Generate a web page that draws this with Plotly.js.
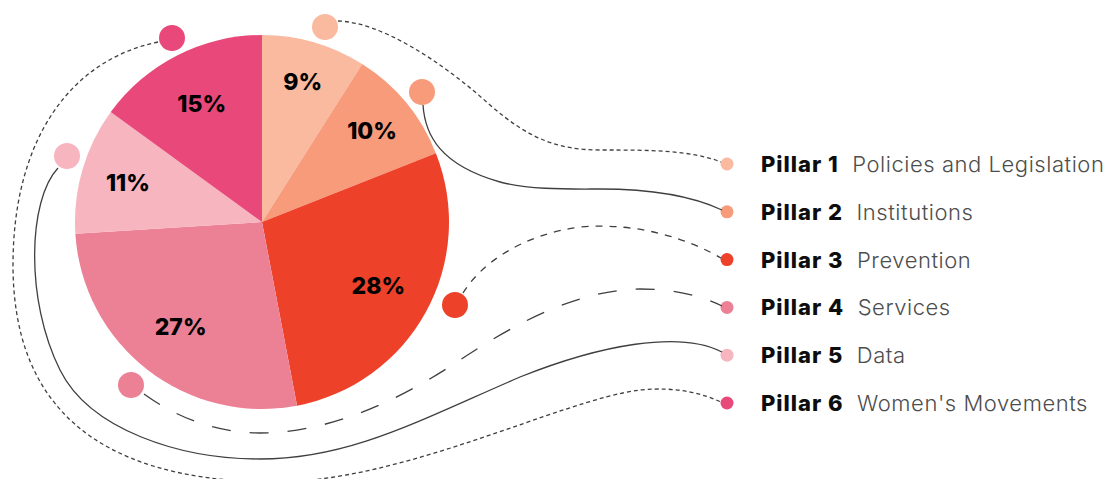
<!DOCTYPE html>
<html><head><meta charset="utf-8">
<script src="https://cdn.plot.ly/plotly-3.0.1.min.js"></script>
<style>html,body{margin:0;padding:0;background:#fff}#chart{width:1109px;height:479px}
.annotation-text{letter-spacing:0.55px}</style>
</head><body><div id="chart"></div>
<script>
// ---- data ----
const pillars = ["Pillar 1", "Pillar 2", "Pillar 3", "Pillar 4", "Pillar 5", "Pillar 6"];
const pillarNames = ["Policies and Legislation", "Institutions", "Prevention", "Services", "Data", "Women's Movements"];
const shares = [9, 10, 28, 27, 11, 15];

// ---- styles / layout geometry (pixels) ----
const colors = ["#F9BA9F", "#F79B7B", "#EE412A", "#EC8195", "#F6B5BF", "#E8497A"];
const W = 1109, H = 479;
const cx = 262, cy = 222, R = 187;
const legendX = 727, legendY0 = 164, legendStep = 47.8, legendTextX = 759;
// decorative bubbles next to the pie, and connector curves to the legend dots
const bubbles = [[325, 27], [422, 92], [455, 305], [131, 385], [67, 156], [172, 38]];
const bubbleR = 13;
const connectors = [
  {dash: "4px,3px", path: "M338,21 C380,22 440,60 490,105 C530,140 560,150 600,150 C650,150 690,150 721,162"},
  {dash: "solid",   path: "M423,105 C425,135 440,165 500,182 C530,190 570,189 600,189 C650,189 690,195 722,210"},
  {dash: "7px,7px", path: "M463,293 C480,265 520,235 580,227 C640,222 690,240 721,258"},
  {dash: "19px,19px", path: "M144,394 C180,420 220,433 260,433 C330,433 400,400 460,360 C520,320 580,290 640,289 C680,289 705,298 722,306"},
  {dash: "solid",   path: "M58,168 C28,200 25,300 60,370 C90,430 180,459 260,459 C350,459 420,420 520,377 C600,345 680,330 722,352"},
  {dash: "4px,3px", path: "M158,42 C70,60 13,140 13,265 C13,400 90,480 270,482 C400,484 560,400 640,390 C680,386 705,395 721,402"}
];

const legendYs = pillars.map((_, i) => legendY0 + i * legendStep);
const pieDomain = {x: [(cx - R) / W, (cx + R) / W], y: [(H - cy - R) / H, (H - cy + R) / H]};

const pie = {
  type: "pie",
  values: shares,
  labels: pillars,
  marker: {colors: colors, line: {width: 0}},
  sort: false, direction: "clockwise", rotation: 0,
  textinfo: "none",
  hoverinfo: "none", showlegend: false,
  domain: pieDomain
};

// transparent ring on top of the pie, used only to place the percentage labels
const pieLabels = {
  type: "pie",
  values: shares,
  labels: pillars,
  marker: {colors: pillars.map(() => "rgba(0,0,0,0)"), line: {width: 0}},
  sort: false, direction: "clockwise", rotation: 0,
  hole: 0.42,
  texttemplate: "%{value}%",
  textposition: "inside",
  insidetextorientation: "horizontal",
  textfont: {family: "Inter, Roboto, sans-serif", size: 23, color: "#000", weight: 800},
  hoverinfo: "none", showlegend: false,
  domain: pieDomain
};

const legendDots = {
  type: "scatter",
  mode: "markers",
  x: pillars.map(() => legendX),
  y: legendYs,
  marker: {color: colors, size: 13, line: {width: 0}},
  hoverinfo: "none",
  showlegend: false
};

const shapes = [];
connectors.forEach(c => {
  shapes.push({type: "path", xref: "x", yref: "y", path: c.path,
    line: {color: "#3f3f3f", width: 1.3, dash: c.dash}, layer: "above"});
});
bubbles.forEach((b, i) => {
  shapes.push({type: "circle", xref: "x", yref: "y",
    x0: b[0] - bubbleR, x1: b[0] + bubbleR, y0: b[1] - bubbleR, y1: b[1] + bubbleR,
    fillcolor: colors[i], line: {width: 0}, layer: "above"});
});

const annotations = pillars.map((p, i) => ({
  xref: "x", yref: "y", x: legendTextX, y: legendYs[i],
  xanchor: "left", yanchor: "middle", showarrow: false,
  text: "<span style='font-weight:800;color:#0d0d0d;letter-spacing:1px'>" + p + "</span>\u00a0 " + pillarNames[i],
  font: {family: "Inter, Roboto, sans-serif", size: 22, color: "#4d4d4d", weight: 300}
}));

const layout = {
  width: W, height: H,
  margin: {l: 0, r: 0, t: 0, b: 0},
  paper_bgcolor: "#fff", plot_bgcolor: "rgba(0,0,0,0)",
  showlegend: false,
  xaxis: {range: [0, W], visible: false, fixedrange: true},
  yaxis: {range: [H, 0], visible: false, fixedrange: true},
  shapes: shapes,
  annotations: annotations
};

Plotly.newPlot("chart", [legendDots, pie, pieLabels], layout, {displayModeBar: false, staticPlot: true});
</script>
</body></html>
